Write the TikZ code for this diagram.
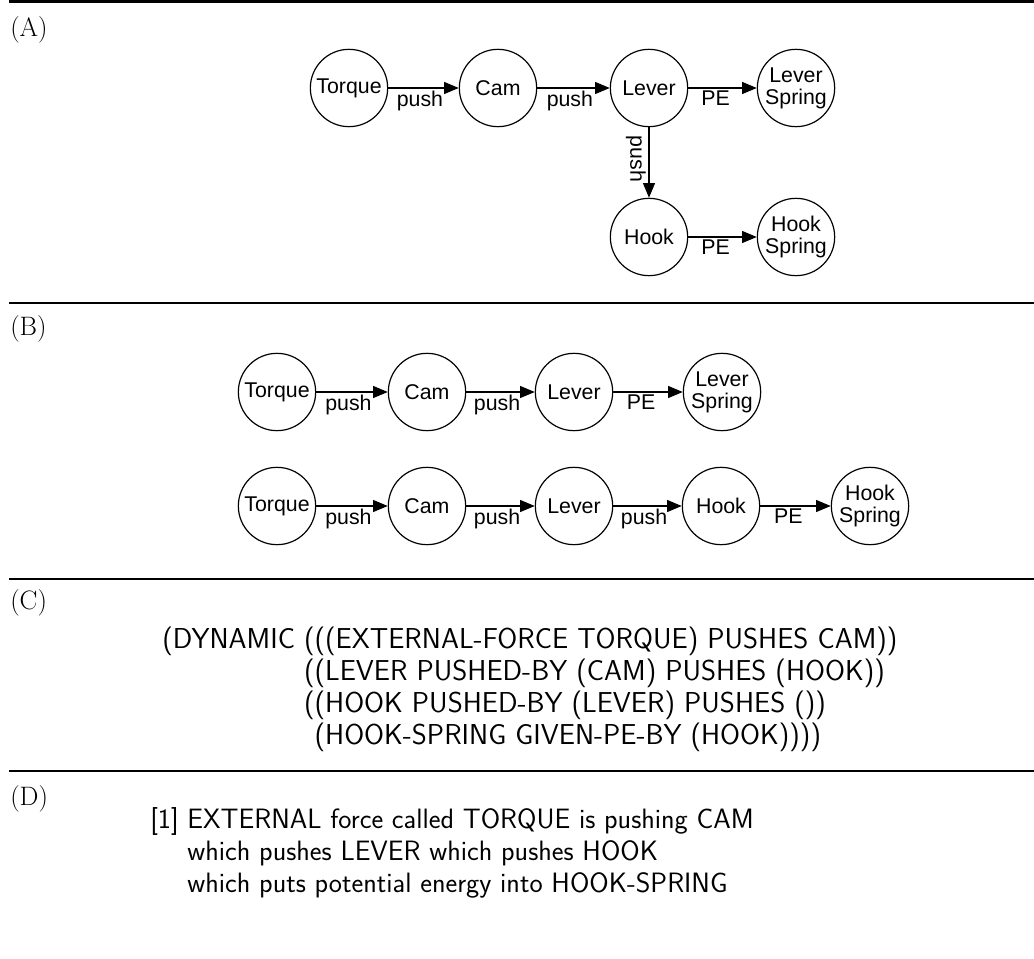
\documentclass[tikz,border=0pt]{standalone}
\usepackage{fontspec}
\newfontfamily\helv{Liberation Sans}
\usetikzlibrary{arrows.meta,positioning}

\tikzset{
  part/.style={circle, draw, line width=0.9pt, minimum size=58pt, inner sep=0pt,
    align=center, font=\helv\fontsize{16}{16.5}\selectfont},
  flow/.style={-{Triangle[length=11pt,width=9pt]}, line width=0.8pt},
  tag/.style={font=\helv\fontsize{16}{17}\selectfont, inner sep=2pt},
  panel/.style={anchor=west, inner sep=0pt, font=\fontsize{20}{24}\selectfont},
  rule/.style={line width=2pt},
  lisp/.style={anchor=north west, inner sep=0pt, align=left,
    font=\sffamily\fontsize{21.6}{24}\selectfont}
}

\begin{document}
\begin{tikzpicture}[x=0.75pt,y=-0.75pt]
\useasboundingbox (0,0) rectangle (1034,959);

% section rules
\draw[rule] (9,1.5) -- (1034,1.5);
\draw[rule] (9,303) -- (1034,303);
\draw[rule] (9,579) -- (1034,579);
\draw[rule] (9,771) -- (1034,771);

\node[panel] (pa) at (10,30) {(A)};
\node[panel] (pb) at (10,329) {(B)};
\node[panel] (pc) at (10,603) {(C)};
\node[panel] (pd) at (10,799) {(D)};

% (A)
\node[part] (atq) at (349,88) {Torque};
\node[part] (acam) at (498,88) {Cam};
\node[part] (alev) at (649,88) {Lever};
\node[part] (alsp) at (796,88) {Lever\\Spring};
\node[part] (ahook) at (649,237) {Hook};
\node[part] (ahsp) at (796,237) {Hook\\Spring};
\draw[flow] (atq) -- node[tag, below, pos=0.45] {push} (acam);
\draw[flow] (acam) -- node[tag, below, pos=0.45] {push} (alev);
\draw[flow] (alev) -- node[tag, below, pos=0.4] {PE} (alsp);
\draw[flow] (alev) -- node[tag, pos=0.45, rotate=-90, anchor=north] {push} (ahook);
\draw[flow] (ahook) -- node[tag, below, pos=0.4] {PE} (ahsp);

% (B) first chain
\node[part] (btq) at (277,392) {Torque};
\node[part] (bcam) at (427,392) {Cam};
\node[part] (blev) at (574,392) {Lever};
\node[part] (blsp) at (722,392) {Lever\\Spring};
\draw[flow] (btq) -- node[tag, below, pos=0.45] {push} (bcam);
\draw[flow] (bcam) -- node[tag, below, pos=0.45] {push} (blev);
\draw[flow] (blev) -- node[tag, below, pos=0.4] {PE} (blsp);

% (B) second chain
\node[part] (ctq) at (277,506) {Torque};
\node[part] (ccam) at (427,506) {Cam};
\node[part] (clev) at (574,506) {Lever};
\node[part] (chook) at (721,506) {Hook};
\node[part] (chsp) at (870,506) {Hook\\Spring};
\draw[flow] (ctq) -- node[tag, below, pos=0.45] {push} (ccam);
\draw[flow] (ccam) -- node[tag, below, pos=0.45] {push} (clev);
\draw[flow] (clev) -- node[tag, below, pos=0.45] {push} (chook);
\draw[flow] (chook) -- node[tag, below, pos=0.4] {PE} (chsp);

% (C)
\node[lisp] (dyn) at (162,627) {(DYNAMIC (((EXTERNAL-FORCE TORQUE) PUSHES CAM))\\
  \hphantom{(DYNAMIC}\ ((LEVER PUSHED-BY (CAM) PUSHES (HOOK))\\
  \hphantom{(DYNAMIC}\ ((HOOK PUSHED-BY (LEVER) PUSHES ())\\
  \hphantom{(DYNAMIC}\ \hphantom{(}(HOOK-SPRING GIVEN-PE-BY (HOOK))))};

% (D)
\node[lisp, font=\sffamily\fontsize{21}{24}\selectfont] (gloss) at (150,807)
  {[1] EXTERNAL force called TORQUE is pushing CAM\\
  \hphantom{[1]}\ which pushes LEVER which pushes HOOK\\
  \hphantom{[1]}\ which puts potential energy into HOOK-SPRING};
\end{tikzpicture}
\end{document}
